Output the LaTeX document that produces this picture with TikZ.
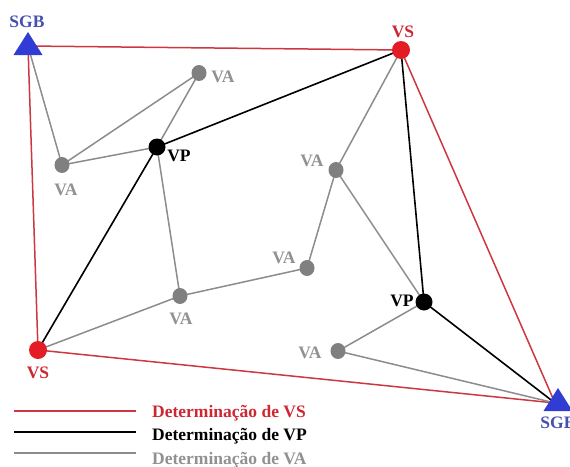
\documentclass[tikz,border=0pt]{standalone}
\usepackage{fontspec}
\setmainfont{Liberation Serif}
\definecolor{vsred}{RGB}{228,28,38}
\definecolor{linered}{RGB}{205,55,65}
\definecolor{vagray}{RGB}{128,128,128}
\definecolor{linegray}{RGB}{140,140,140}
\definecolor{txtgray}{RGB}{145,145,145}
\definecolor{sgbblue}{RGB}{48,60,212}
\definecolor{sgbtxt}{RGB}{70,80,175}
\definecolor{vstxt}{RGB}{205,40,50}
\pgfdeclarelayer{bg}
\pgfsetlayers{bg,main}
\tikzset{
  vsnode/.style={circle,fill=vsred,inner sep=0pt,minimum size=18pt},
  vpnode/.style={circle,fill=black,inner sep=0pt,minimum size=17pt},
  vanode/.style={ellipse,fill=vagray,inner sep=0pt,minimum width=15pt,minimum height=16pt},
  redline/.style={draw=linered,line width=1.5pt},
  blackline/.style={draw=black,line width=1.6pt},
  grayline/.style={draw=linegray,line width=1.5pt},
  lbl/.style={inner sep=0pt,font=\bfseries\fontsize{17.5}{17.5}\selectfont},
  leg/.style={inner sep=0pt,anchor=base west,font=\bfseries\fontsize{17.5}{17.5}\selectfont},
  sgbtri/.style={fill=sgbblue}
}
\usetikzlibrary{shapes.geometric}
\begin{document}
\begin{tikzpicture}[x=1pt,y=-1pt]
\useasboundingbox (0,0) rectangle (570,466);
% vertices
\coordinate (sgb1) at (28,46);
\coordinate (sgb2) at (555,403);
\node[vsnode] (vs1) at (401,50) {};
\node[vsnode] (vs2) at (38,350) {};
\node[vpnode] (vp1) at (157,147) {};
\node[vpnode] (vp2) at (424,302) {};
\node[vanode] (va1) at (199,73) {};
\node[vanode] (va2) at (62,165) {};
\node[vanode] (va3) at (336,170) {};
\node[vanode] (va4) at (307,268) {};
\node[vanode] (va5) at (180,296) {};
\node[vanode] (va6) at (338,351) {};
% triangles
\fill[sgbtri] (sgb1) ++(0,-14) -- ++(14.5,23) -- ++(-29,0) -- cycle;
\fill[sgbtri] (sgb2) ++(3,-15) -- ++(14.5,23) -- ++(-29,0) -- cycle;
\begin{pgfonlayer}{bg}
% red
\draw[redline] (sgb1) -- (vs1.center) -- (sgb2) -- (vs2.center) -- (sgb1);
% black
\draw[blackline] (vs1.center) -- (vp1.center) -- (vs2.center);
\draw[blackline] (vs1.center) -- (vp2.center) -- (sgb2);
% gray
\draw[grayline] (sgb1) -- (va2.center);
\draw[grayline] (va2.center) -- (va1.center) -- (vp1.center) -- (va2.center);
\draw[grayline] (vp1.center) -- (va5.center) -- (vs2.center);
\draw[grayline] (va5.center) -- (va4.center) -- (va3.center) -- (vs1.center);
\draw[grayline] (va3.center) -- (vp2.center) -- (va6.center) -- (sgb2);
\end{pgfonlayer}
% labels
\node[lbl,text=sgbtxt] (lsgb1) at (27,22) {SGB};
\node[lbl,text=sgbtxt] (lsgb2) at (558,423) {SGB};
\node[lbl,text=vstxt] (lvs1) at (403,32) {VS};
\node[lbl,text=vstxt] (lvs2) at (38,373) {VS};
\node[lbl] (lvp1) at (179,156) {VP};
\node[lbl] (lvp2) at (402,301) {VP};
\node[lbl,text=txtgray] (lva1) at (223,77) {VA};
\node[lbl,text=txtgray] (lva2) at (66,190) {VA};
\node[lbl,text=txtgray] (lva3) at (312,161) {VA};
\node[lbl,text=txtgray] (lva4) at (284,258) {VA};
\node[lbl,text=txtgray] (lva5) at (181,319) {VA};
\node[lbl,text=txtgray] (lva6) at (310,353) {VA};
% legend
\coordinate (l1a) at (14,411); \coordinate (l1b) at (136,411);
\coordinate (l2a) at (14,432); \coordinate (l2b) at (136,432);
\coordinate (l3a) at (14,453); \coordinate (l3b) at (136,453);
\draw[redline] (l1a) -- (l1b);
\draw[blackline] (l2a) -- (l2b);
\draw[grayline] (l3a) -- (l3b);
\node[leg,text=vstxt] (t1) at (152,417) {Determinação de VS};
\node[leg] (t2) at (152,440) {Determinação de VP};
\node[leg,text=txtgray] (t3) at (152,464) {Determinação de VA};
\end{tikzpicture}
\end{document}
